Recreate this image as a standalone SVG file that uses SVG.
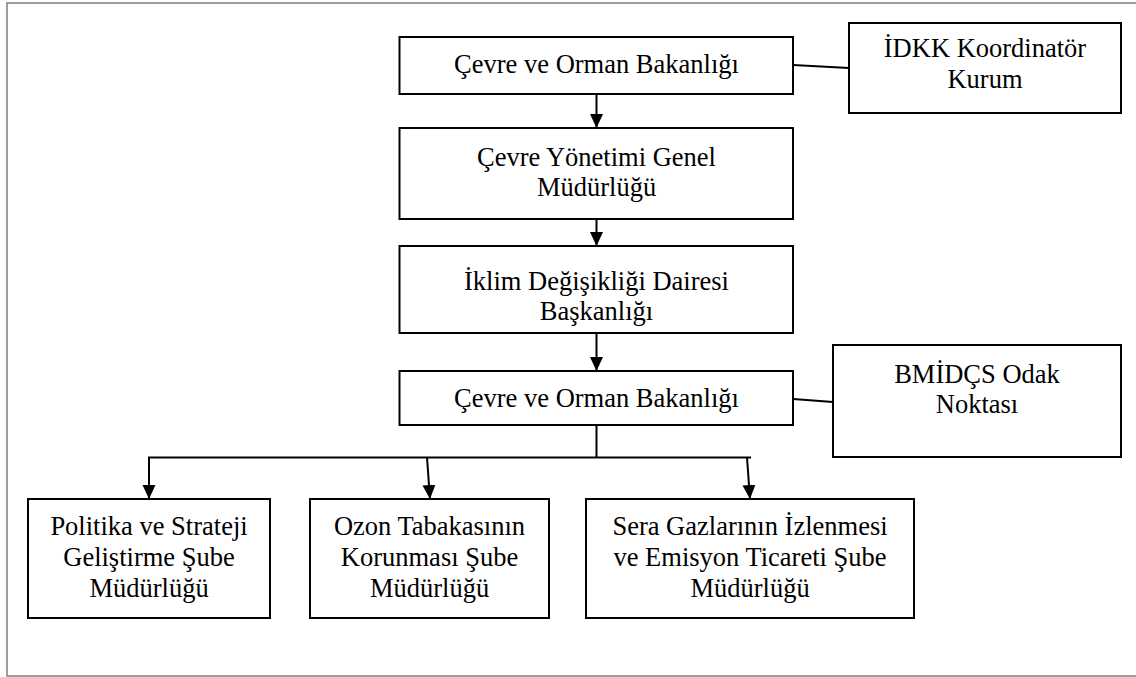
<svg xmlns="http://www.w3.org/2000/svg" width="1136" height="677" viewBox="0 0 1136 677">
  <style>
    .box { fill: #ffffff; stroke: #000000; stroke-width: 2; }
    .lbl { font-family: 'Liberation Serif', 'DejaVu Serif', serif; font-size: 26.5px; fill: #000000; text-anchor: middle; }
    .conn { stroke: #000000; stroke-width: 2; fill: none; }
    .frame { fill: none; stroke: #7f7f7f; stroke-width: 1.5; }
  </style>
  <defs>
    <marker id="arrow" markerUnits="userSpaceOnUse" markerWidth="14" markerHeight="14" viewBox="0 0 14 14" refX="14" refY="7" orient="auto">
      <path d="M0,0.5 L14,7 L0,13.5 Z" fill="#000000"/>
    </marker>
  </defs>
  <rect width="1136" height="677" fill="#ffffff"/>
  <rect class="frame" x="7" y="3" width="1140" height="673"/>

  <g id="connectors">
    <line class="conn" x1="596.5" y1="94" x2="596.5" y2="128" marker-end="url(#arrow)"/>
    <line class="conn" x1="596.5" y1="219" x2="596.5" y2="246" marker-end="url(#arrow)"/>
    <line class="conn" x1="596.5" y1="333" x2="596.5" y2="371" marker-end="url(#arrow)"/>
    <line class="conn" x1="596.5" y1="425" x2="596.5" y2="457.5"/>
    <line class="conn" x1="148" y1="457.5" x2="751" y2="457.5"/>
    <line class="conn" x1="149" y1="457.5" x2="149" y2="499" marker-end="url(#arrow)"/>
    <line class="conn" x1="427" y1="457.5" x2="430" y2="499" marker-end="url(#arrow)"/>
    <line class="conn" x1="747" y1="457.5" x2="750" y2="499" marker-end="url(#arrow)"/>
    <line class="conn" x1="793" y1="65" x2="849" y2="68"/>
    <line class="conn" x1="793" y1="399" x2="833" y2="402"/>
  </g>

  <g id="n1">
    <rect class="box" x="399.5" y="37" width="393.5" height="57"/>
    <text class="lbl" x="596.5" y="73">Çevre ve Orman Bakanlığı</text>
  </g>
  <g id="n-idkk">
    <rect class="box" x="849" y="23" width="272" height="90"/>
    <text class="lbl" x="985" y="57">İDKK Koordinatör</text>
    <text class="lbl" x="985" y="88">Kurum</text>
  </g>
  <g id="n2">
    <rect class="box" x="399.5" y="128" width="393.5" height="91"/>
    <text class="lbl" x="596.5" y="165.5">Çevre Yönetimi Genel</text>
    <text class="lbl" x="596.5" y="196">Müdürlüğü</text>
  </g>
  <g id="n3">
    <rect class="box" x="399.5" y="246" width="393.5" height="87"/>
    <text class="lbl" x="596.5" y="290">İklim Değişikliği Dairesi</text>
    <text class="lbl" x="596.5" y="320">Başkanlığı</text>
  </g>
  <g id="n4">
    <rect class="box" x="399.5" y="371" width="393.5" height="54"/>
    <text class="lbl" x="596.5" y="407">Çevre ve Orman Bakanlığı</text>
  </g>
  <g id="n-bmidcs">
    <rect class="box" x="833" y="345" width="288" height="112"/>
    <text class="lbl" x="977" y="383">BMİDÇS Odak</text>
    <text class="lbl" x="977" y="413">Noktası</text>
  </g>
  <g id="n5">
    <rect class="box" x="28" y="499" width="242" height="119"/>
    <text class="lbl" x="149" y="535">Politika ve Strateji</text>
    <text class="lbl" x="149" y="566">Geliştirme Şube</text>
    <text class="lbl" x="149" y="597">Müdürlüğü</text>
  </g>
  <g id="n6">
    <rect class="box" x="310" y="499" width="239" height="119"/>
    <text class="lbl" x="429.5" y="535">Ozon Tabakasının</text>
    <text class="lbl" x="429.5" y="566">Korunması Şube</text>
    <text class="lbl" x="429.5" y="597">Müdürlüğü</text>
  </g>
  <g id="n7">
    <rect class="box" x="586" y="499" width="328" height="119"/>
    <text class="lbl" x="750" y="535">Sera Gazlarının İzlenmesi</text>
    <text class="lbl" x="750" y="566">ve Emisyon Ticareti Şube</text>
    <text class="lbl" x="750" y="597">Müdürlüğü</text>
  </g>
</svg>
